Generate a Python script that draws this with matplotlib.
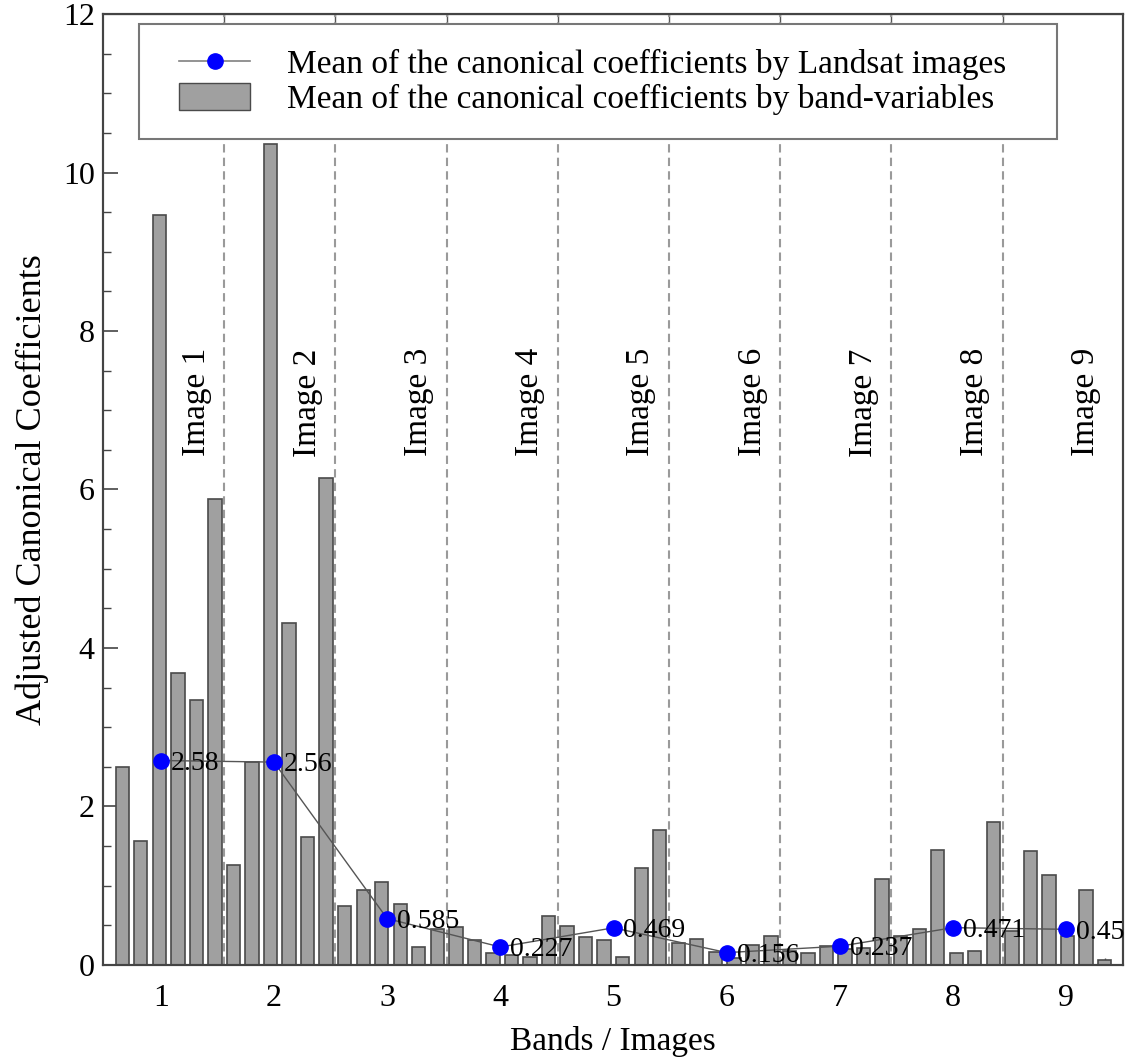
import numpy as np
import matplotlib.pyplot as plt
from matplotlib.lines import Line2D
from matplotlib.patches import Patch, Rectangle
from matplotlib.ticker import MultipleLocator

plt.rcParams['font.family'] = ['Liberation Serif', 'DejaVu Serif']

# ── Data ──────────────────────────────────────────────────────────────────────
images = [1, 2, 3, 4, 5, 6, 7, 8, 9]
image_means = [2.58, 2.56, 0.585, 0.227, 0.469, 0.156, 0.237, 0.471, 0.45]
mean_labels = ['2.58', '2.56', '0.585', '0.227', '0.469', '0.156', '0.237', '0.471', '0.45']
image_names = [f'Image {i}' for i in images]

# 6 band-variables per image, image 1 ... image 9
band_values = [
    2.50, 1.57, 9.46, 3.69, 3.34, 5.88,
    1.26, 2.56, 10.36, 4.31, 1.61, 6.15,
    0.745, 0.95, 1.05, 0.77, 0.23, 0.45,
    0.48, 0.32, 0.15, 0.12, 0.10, 0.62,
    0.49, 0.35, 0.31, 0.10, 1.22, 1.70,
    0.28, 0.33, 0.16, 0.09, 0.25, 0.37,
    0.18, 0.155, 0.24, 0.20, 0.21, 1.08,
    0.36, 0.46, 1.45, 0.155, 0.175, 1.80,
    0.43, 1.44, 1.13, 0.36, 0.95, 0.06,
]
bands_per_image = 6

# ── Figure ────────────────────────────────────────────────────────────────────
fig = plt.figure(figsize=(11.27, 10.61), dpi=100)
ax = fig.add_axes([0.0914, 0.0905, 0.9051, 0.8963])

bar_x = np.arange(1, len(band_values) + 1)
ax.bar(bar_x, band_values, width=0.72, color='#a0a0a0', edgecolor='#4a4a4a',
       linewidth=1.2, zorder=2)

dividers = [k * bands_per_image + 0.5 for k in range(1, len(images))]
for d in dividers:
    ax.axvline(d, color='#9a9a9a', ls=(0, (4, 2.5)), lw=1.5, zorder=1)

for k, name in zip(images, image_names):
    ax.text(k * bands_per_image - 1, 7.1, name, rotation=90, ha='center',
            va='center', fontsize=24, zorder=3)

ax.set_xlim(-0.04, 55.0)
ax.set_ylim(0, 12)
ax.set_xticks(bar_x)
ax.set_xticklabels([])
ax.tick_params(axis='x', direction='in', length=5, width=1, color='#555555')
ax.yaxis.set_major_locator(MultipleLocator(2))
ax.yaxis.set_minor_locator(MultipleLocator(0.5))
ax.tick_params(axis='y', which='major', direction='in', length=11, width=1.2,
               labelsize=23, pad=6, color='#444444')
ax.tick_params(axis='y', which='minor', direction='in', length=5.5, width=1,
               color='#444444')
ax.set_ylabel('Adjusted Canonical Coefficients', fontsize=26, labelpad=10)

sec = ax.secondary_xaxis('top')
sec.set_xticks(dividers)
sec.set_xticklabels([])
sec.tick_params(direction='in', length=7, width=1, color='#555555')

# ── Image means on their own x scale ──────────────────────────────────────────
ax2 = ax.twiny()
ax2.set_xlim(0.49, 9.5)
ax2.xaxis.tick_bottom()
ax2.xaxis.set_label_position('bottom')
ax2.set_xticks(images)
ax2.tick_params(axis='x', length=0, pad=14, labelsize=23)
ax2.set_xlabel('Bands / Images', fontsize=24, labelpad=9)

ax2.plot(images, image_means, color='#555555', lw=1, marker='o', ms=11,
         mfc='blue', mec='blue', zorder=3)
for x, m, lab in zip(images, image_means, mean_labels):
    ax2.annotate(lab, (x, m), xytext=(7, -2), textcoords='offset points',
                 ha='left', va='center', fontsize=20, zorder=4)

for a in (ax, ax2):
    for s in a.spines.values():
        s.set_color('#444444')
        s.set_linewidth(1.5)

# legend box
ax2.add_patch(Rectangle((0.0353, 0.8686), 0.90, 0.1209, transform=ax2.transAxes,
                        facecolor='white', edgecolor='#777777', lw=1.5, zorder=5))
handles = [
    Line2D([], [], color='#808080', lw=1.2, marker='o', ms=11, mfc='blue', mec='blue'),
    Patch(facecolor='#a0a0a0', edgecolor='#4a4a4a'),
]
labels = ['Mean of the canonical coefficients by Landsat images',
          'Mean of the canonical coefficients by band-variables']
leg = ax2.legend(handles, labels, loc='upper left', bbox_to_anchor=(0.0745, 0.964),
                 frameon=False, borderpad=0, borderaxespad=0, fontsize=24,
                 handlelength=2.13, handleheight=0.85, handletextpad=1.1,
                 labelspacing=0.1)
leg.set_zorder(6)

fig.savefig('out.png', dpi=100)
